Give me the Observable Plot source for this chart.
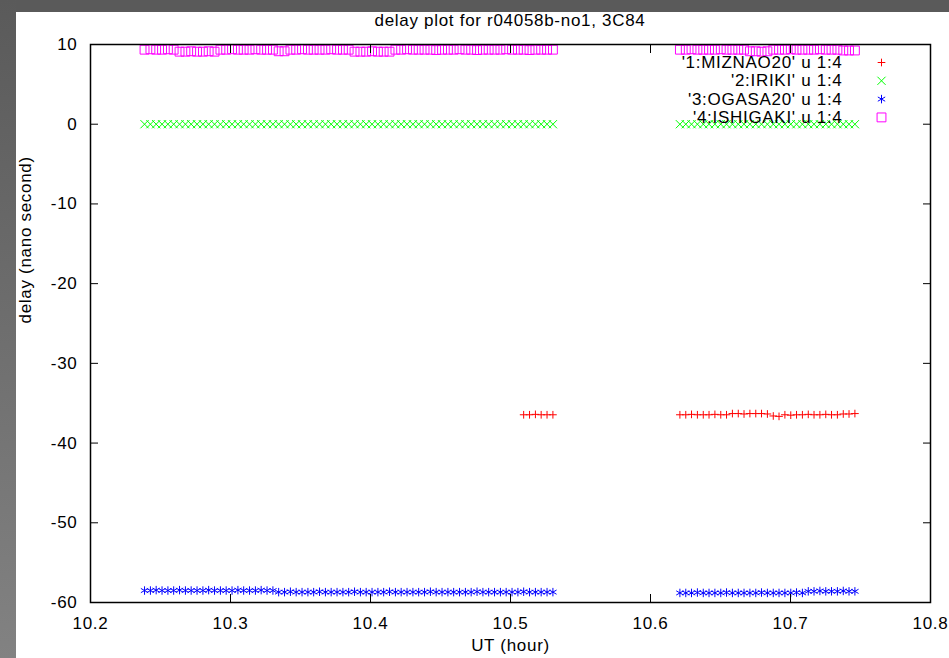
<!DOCTYPE html>
<html>
<head>
<meta charset="utf-8">
<script src="https://cdn.jsdelivr.net/npm/d3@7"></script>
<script src="https://cdn.jsdelivr.net/npm/@observablehq/plot@0.6"></script>
<style>
  html, body { margin: 0; padding: 0; background: #fff; }
  #wrap { position: relative; width: 949px; height: 658px; overflow: hidden; background: #fff; }
  #chart { position: absolute; left: 0; top: 0; }
  #bandTop { position: absolute; left: 0; top: 0; width: 949px; height: 12px; background: #5a5a5a; }
  #bandLeft { position: absolute; left: 0; top: 0; width: 16px; height: 658px; background: linear-gradient(#5a5a5a, #828282); }
  #title { position: absolute; left: 90px; width: 840px; top: 12px; text-align: center;
           font-family: "Liberation Sans", Arial, sans-serif; font-size: 17px; line-height: 17px;
           letter-spacing: 0.7px; color: #000; }
</style>
</head>
<body>
<div id="wrap">
  <div id="chart"></div>
  <div id="bandTop"></div>
  <div id="bandLeft"></div>
  <div id="title">delay plot for r04058b-no1, 3C84</div>
</div>
<script>
// ---- data ----
const xTicks = [10.2, 10.3, 10.4, 10.5, 10.6, 10.7, 10.8];
const yTicks = [-60, -50, -40, -30, -20, -10, 0, 10];
const seriesNames = ["'1:MIZNAO20' u 1:4", "'2:IRIKI' u 1:4", "'3:OGASA20' u 1:4", "'4:ISHIGAKI' u 1:4"];
const seriesColors = ["#ff0000", "#00ff00", "#0000ff", "#ff00ff"];
const seriesSymbols = ["plus", "times", "asterisk", "square"];
const xLabel = "UT (hour)";
const yLabel = "delay (nano second)";

// UT (hour) of each integration, scan A and scan B
const scanA = [
  10.2386, 10.2428, 10.2469, 10.2511, 10.2553, 10.2594, 10.2636, 10.2678, 10.2719, 10.2761,
  10.2803, 10.2844, 10.2886, 10.2928, 10.2969, 10.3011, 10.3053, 10.3094, 10.3136, 10.3178,
  10.3219, 10.3261, 10.3303, 10.3344, 10.3386, 10.3428, 10.3469, 10.3511, 10.3553, 10.3594,
  10.3636, 10.3678, 10.3719, 10.3761, 10.3803, 10.3844, 10.3886, 10.3928, 10.3969, 10.4011,
  10.4053, 10.4094, 10.4136, 10.4178, 10.4219, 10.4261, 10.4303, 10.4344, 10.4386, 10.4428,
  10.4469, 10.4511, 10.4553, 10.4594, 10.4636, 10.4678, 10.4719, 10.4761, 10.4803, 10.4844,
  10.4886, 10.4928, 10.4969, 10.5011, 10.5053, 10.5094, 10.5136, 10.5178, 10.5219, 10.5261,
  10.5303
];
const scanB = [
  10.6210, 10.6252, 10.6293, 10.6335, 10.6377, 10.6418, 10.6460, 10.6502, 10.6543, 10.6585,
  10.6627, 10.6668, 10.6710, 10.6752, 10.6793, 10.6835, 10.6877, 10.6918, 10.6960, 10.7002,
  10.7043, 10.7085, 10.7127, 10.7168, 10.7210, 10.7252, 10.7293, 10.7335, 10.7377, 10.7418,
  10.7460
];
const miznaoTimesA = [10.5094, 10.5136, 10.5178, 10.5219, 10.5261, 10.5303];

const miznaoA = [-36.45, -36.45, -36.4, -36.45, -36.45, -36.45];
const miznaoB = [
  -36.45, -36.45, -36.4, -36.45, -36.45, -36.45, -36.4, -36.45, -36.45,
  -36.3, -36.3, -36.35, -36.3, -36.3, -36.3, -36.35,
  -36.6, -36.65,
  -36.45, -36.5, -36.45, -36.45, -36.4, -36.45, -36.45, -36.4, -36.45, -36.45,
  -36.35, -36.35, -36.3
];
const irikiA = [
  0,0,0,0,0,0,0,0,0,0, 0,0,0,0,0,0,0,0,0,0, 0,0,0,0,0,0,0,0,0,0, 0,0,0,0,0,0,0,0,0,0,
  0,0,0,0,0,0,0,0,0,0, 0,0,0,0,0,0,0,0,0,0, 0,0,0,0,0,0,0,0,0,0, 0
];
const irikiB = [
  0,0,0,0,0,0,0,0,0,0, 0,0,0,0,0,0,0,0,0,0, 0,0,0,0,0,0,0,0,0,0, 0
];
const ogasaA = [
  -58.5, -58.5, -58.45, -58.5, -58.5, -58.5, -58.45, -58.5, -58.5, -58.5,
  -58.5, -58.45, -58.5, -58.5, -58.5, -58.5, -58.45, -58.5, -58.5, -58.5,
  -58.45, -58.5, -58.5,
  -58.7, -58.7, -58.65, -58.7, -58.7, -58.7, -58.7, -58.65, -58.7, -58.7,
  -58.7, -58.7, -58.7, -58.65, -58.7, -58.7, -58.7, -58.7, -58.7, -58.65,
  -58.7, -58.7, -58.7, -58.7, -58.7, -58.7, -58.65, -58.7, -58.7, -58.7,
  -58.7, -58.7, -58.7, -58.7, -58.65, -58.7, -58.7, -58.7, -58.7, -58.7,
  -58.7, -58.7, -58.65, -58.7, -58.7, -58.7, -58.7, -58.7
];
const ogasaB = [
  -58.8, -58.8, -58.8, -58.75, -58.8, -58.8, -58.8, -58.8, -58.75, -58.8,
  -58.8, -58.8, -58.8, -58.8, -58.75, -58.8, -58.8, -58.8, -58.8, -58.8,
  -58.75, -58.8,
  -58.6, -58.6, -58.55, -58.6, -58.6, -58.6, -58.55, -58.6, -58.6
];
const ishigakiA = [
  9.35, 9.4, 9.35, 9.35, 9.4, 9.35,
  9.1, 9.1, 9.15, 9.1, 9.1, 9.15, 9.1,
  9.35, 9.35, 9.4, 9.35, 9.35, 9.35, 9.4, 9.35, 9.35, 9.35,
  9.15, 9.15,
  9.35, 9.35, 9.4, 9.35, 9.35, 9.35, 9.35, 9.4, 9.35, 9.35, 9.35,
  9.1, 9.1, 9.1, 9.15, 9.1, 9.1, 9.1,
  9.35, 9.35, 9.4, 9.35, 9.35, 9.35, 9.35, 9.3, 9.35, 9.35,
  9.35, 9.4, 9.35, 9.35, 9.3, 9.35, 9.35, 9.35, 9.35, 9.4,
  9.35, 9.35, 9.35, 9.3, 9.35, 9.35, 9.35, 9.35
];
const ishigakiB = [
  9.35, 9.35, 9.4, 9.35, 9.35, 9.35, 9.35, 9.4, 9.35, 9.35, 9.35, 9.35,
  9.15, 9.15, 9.1, 9.15,
  9.35, 9.35, 9.35, 9.4, 9.35, 9.35, 9.35, 9.35, 9.4, 9.35, 9.35, 9.35,
  9.25, 9.25, 9.25
];

// ---- build tables ----
function rows(times, values) {
  if (times.length !== values.length) throw new Error("length mismatch " + times.length + " vs " + values.length);
  return times.map((t, i) => ({t, v: values[i]}));
}
const seriesData = [
  rows(miznaoTimesA, miznaoA).concat(rows(scanB, miznaoB)),
  rows(scanA, irikiA).concat(rows(scanB, irikiB)),
  rows(scanA, ogasaA).concat(rows(scanB, ogasaB)),
  rows(scanA, ishigakiA).concat(rows(scanB, ishigakiB))
];
const symbolR = [2.6, 3.8, 4, 5];

const fmtX = d3.format(".1f");
const fmtY = d => String(d);

const marks = [];
// points
seriesData.forEach((data, i) => {
  marks.push(Plot.dot(data, {x: "t", y: "v", symbol: () => seriesSymbols[i], r: symbolR[i],
    stroke: seriesColors[i], fill: "none", strokeWidth: 1}));
});
// legend
seriesNames.forEach((name, i) => {
  marks.push(Plot.text([name], {frameAnchor: "top-right", dx: -88, dy: 18 + 18.3 * i,
    textAnchor: "end", lineAnchor: "middle", fill: "#000"}));
  marks.push(Plot.dot([name], {frameAnchor: "top-right", dx: -49, dy: 18 + 18.3 * i,
    symbol: () => seriesSymbols[i], r: symbolR[i], stroke: seriesColors[i], fill: "none", strokeWidth: 1}));
});
// inward ticks on all four sides
marks.push(Plot.axisX(xTicks, {anchor: "bottom", tickSize: -8, fill: "none", stroke: "#000", label: null}));
marks.push(Plot.axisX(xTicks, {anchor: "top", tickSize: -8, fill: "none", stroke: "#000", label: null}));
marks.push(Plot.axisY(yTicks, {anchor: "left", tickSize: -8, fill: "none", stroke: "#000", label: null}));
marks.push(Plot.axisY(yTicks, {anchor: "right", tickSize: -8, fill: "none", stroke: "#000", label: null}));
// tick labels
marks.push(Plot.axisX(xTicks, {anchor: "bottom", tickSize: 0, tickPadding: 14, tickFormat: fmtX, fill: "#000", label: null}));
marks.push(Plot.axisY(yTicks, {anchor: "left", tickSize: 0, tickPadding: 13, tickFormat: fmtY, fill: "#000", label: null}));
// axis titles
marks.push(Plot.text([xLabel], {frameAnchor: "bottom", dy: 43, lineAnchor: "middle", fill: "#000"}));
marks.push(Plot.text([yLabel], {frameAnchor: "left", dx: -65, rotate: -90, lineAnchor: "middle", fill: "#000"}));
// border
marks.push(Plot.frame({stroke: "#000", strokeWidth: 1.5}));

const chart = Plot.plot({
  width: 949,
  height: 658,
  marginLeft: 90,
  marginRight: 19,
  marginTop: 44,
  marginBottom: 56,
  x: {domain: [10.2, 10.8]},
  y: {domain: [-60, 10]},
  style: {background: "transparent", fontFamily: "'Liberation Sans', Arial, sans-serif",
          fontSize: "17px", letterSpacing: "0.7px", color: "#000"},
  marks
});
document.getElementById("chart").appendChild(chart);
</script>
</body>
</html>
